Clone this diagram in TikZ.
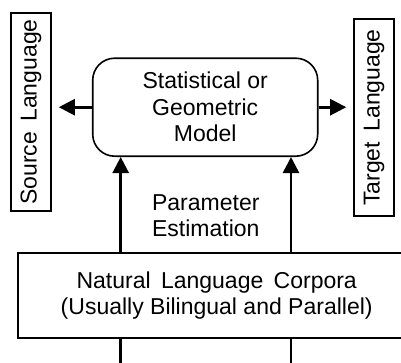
\documentclass[tikz,border=0pt]{standalone}
\usepackage{fontspec}
\setmainfont{Liberation Sans}
\usetikzlibrary{arrows.meta}
\begin{document}
\begin{tikzpicture}[x=1pt,y=-1pt,
  font=\fontsize{23}{26.5}\selectfont,
  box/.style={draw,line width=1.6pt,inner sep=0pt,align=center},
  modelbox/.style={box,rounded corners=22pt},
  flow/.style={line width=2.6pt,-{Triangle[length=16pt,width=16pt]}},
  feed/.style={line width=2.6pt}]
  \useasboundingbox (0,0) rectangle (401,362);
  \clip (0,0) rectangle (401,362);

  % central model
  \node[modelbox,minimum width=225pt,minimum height=98pt] (model) at (205.2,107.2)
    {Statistical or\\Geometric\\Model};

  % language boxes (rotated labels)
  \node[box,rotate=90,minimum width=198pt,minimum height=40pt] (src) at (31,112)
    {Source\hspace{0.45em}Language};
  \node[box,rotate=90,minimum width=197pt,minimum height=40pt] (tgt) at (374,117.5)
    {Target\hspace{0.45em}Language};

  % corpus box, running past the right edge
  \node[box,minimum width=397pt,minimum height=85pt] (corp) at (216.7,295.5)
    {Natural\hspace{0.45em}Language\hspace{0.45em}Corpora\\(Usually Bilingual and Parallel)};

  \node[align=center,inner sep=0pt] (param) at (205.8,215.5) {Parameter\\Estimation};

  % outgoing arrows
  \draw[flow,shorten >=7pt] (model.west) -- (model.west -| src.south);
  \draw[flow,shorten >=7pt] (model.east) -- (model.east -| tgt.north);

  % estimation arrows
  \coordinate (la) at (120.7,365);
  \coordinate (ra) at (291,365);
  \draw[flow] (corp.north -| la) -- (model.south -| la);
  \draw[flow] (corp.north -| ra) -- (model.south -| ra);
  \draw[feed] (la) -- (corp.south -| la);
  \draw[feed] (ra) -- (corp.south -| ra);
\end{tikzpicture}
\end{document}
